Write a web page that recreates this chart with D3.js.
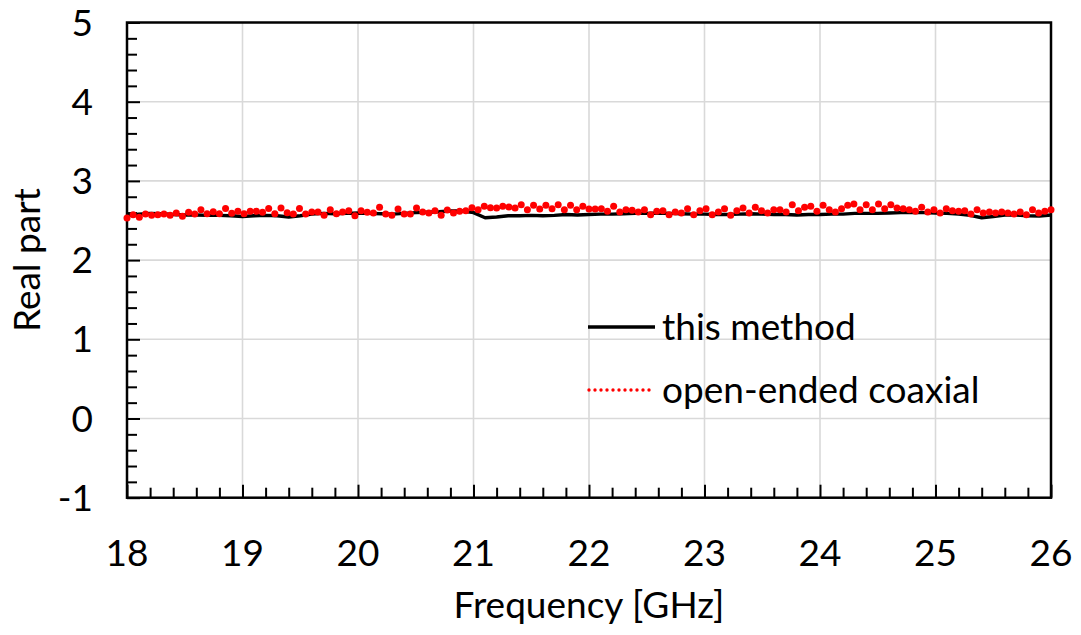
<!DOCTYPE html>
<html>
<head>
<meta charset="utf-8">
<script src="https://cdn.jsdelivr.net/npm/d3@7"></script>
<style>
  html, body { margin: 0; padding: 0; background: #fff; }
  svg { display: block; }
  text { font-family: Lato, "Open Sans", sans-serif; fill: #000; }
</style>
</head>
<body>
<svg id="chart" width="1081" height="635"></svg>
<script>
// Frequency sweep of the measured real permittivity (GHz)
const freqStart = 18;
const freqEnd = 26;

// "this method": sampled every 0.1 GHz from 18 to 26 GHz
const methodValues = [
  2.56, 2.58, 2.59, 2.585, 2.575, 2.57, 2.57, 2.565, 2.565, 2.56,
  2.55, 2.56, 2.565, 2.56, 2.545, 2.56, 2.58, 2.59, 2.585, 2.59,
  2.595, 2.59, 2.585, 2.58, 2.59, 2.60, 2.605, 2.61, 2.62, 2.62,
  2.60, 2.535, 2.545, 2.56, 2.56, 2.565, 2.56, 2.565, 2.575, 2.57,
  2.575, 2.58, 2.58, 2.585, 2.59, 2.59, 2.595, 2.59, 2.585, 2.58,
  2.58, 2.575, 2.575, 2.58, 2.585, 2.58, 2.575, 2.575, 2.57, 2.575,
  2.575, 2.58, 2.58, 2.59, 2.59, 2.59, 2.595, 2.60, 2.60, 2.60,
  2.595, 2.59, 2.58, 2.565, 2.535, 2.55, 2.57, 2.57, 2.56, 2.555,
  2.57
];

// "open-ended coaxial": 151 points evenly spread from 18 to 26 GHz
const coaxValues = [
  2.53, 2.574, 2.54, 2.582, 2.565, 2.574, 2.582, 2.565, 2.595, 2.553,
  2.603, 2.582, 2.637, 2.586, 2.611, 2.586, 2.653, 2.59, 2.616, 2.586,
  2.616, 2.616, 2.603, 2.653, 2.586, 2.658, 2.599, 2.582, 2.653, 2.582,
  2.607, 2.607, 2.565, 2.637, 2.586, 2.607, 2.624, 2.561, 2.624, 2.603,
  2.595, 2.666, 2.582, 2.565, 2.645, 2.582, 2.582, 2.658, 2.607, 2.595,
  2.624, 2.565, 2.632, 2.595, 2.616, 2.624, 2.66, 2.637, 2.68, 2.66,
  2.658, 2.679, 2.67, 2.658, 2.70, 2.637, 2.691, 2.645, 2.691, 2.649,
  2.70, 2.637, 2.691, 2.637, 2.679, 2.645, 2.645, 2.649, 2.616, 2.679,
  2.607, 2.637, 2.628, 2.607, 2.637, 2.574, 2.616, 2.624, 2.574, 2.607,
  2.595, 2.649, 2.574, 2.624, 2.649, 2.574, 2.607, 2.649, 2.565, 2.624,
  2.658, 2.595, 2.666, 2.624, 2.595, 2.637, 2.637, 2.607, 2.70, 2.624,
  2.666, 2.679, 2.616, 2.691, 2.637, 2.607, 2.649, 2.691, 2.708, 2.637,
  2.70, 2.637, 2.708, 2.649, 2.70, 2.658, 2.649, 2.637, 2.616, 2.666,
  2.607, 2.637, 2.595, 2.649, 2.624, 2.616, 2.624, 2.582, 2.637, 2.595,
  2.607, 2.595, 2.607, 2.595, 2.582, 2.607, 2.574, 2.637, 2.595, 2.616,
  2.637
];

const xTickValues = [18, 19, 20, 21, 22, 23, 24, 25, 26];
const yTickValues = [-1, 0, 1, 2, 3, 4, 5];
const seriesNames = ["this method", "open-ended coaxial"];
const xTitle = "Frequency [GHz]";
const yTitle = "Real part";

const svg = d3.select("#chart");
const plot = { left: 127, right: 1051, top: 22.5, bottom: 497.7 };
const fontSize = 37;

const x = d3.scaleLinear().domain([freqStart, freqEnd]).range([plot.left, plot.right]);
const y = d3.scaleLinear().domain([-1, 5]).range([plot.bottom, plot.top]);

const methodData = methodValues.map((v, i) =>
  ({ f: freqStart + i * (freqEnd - freqStart) / (methodValues.length - 1), v }));
const coaxData = coaxValues.map((v, i) =>
  ({ f: freqStart + i * (freqEnd - freqStart) / (coaxValues.length - 1), v }));

// Gridlines
const grid = svg.append("g").attr("stroke", "#d9d9d9").attr("stroke-width", 1.6);
grid.selectAll("line.v").data(xTickValues.slice(1, -1)).join("line")
  .attr("x1", d => x(d)).attr("x2", d => x(d))
  .attr("y1", plot.top).attr("y2", plot.bottom);
grid.selectAll("line.h").data(yTickValues.slice(1, -1)).join("line")
  .attr("y1", d => y(d)).attr("y2", d => y(d))
  .attr("x1", plot.left).attr("x2", plot.right);

// Minor tick positions every 0.2 between the integer majors
const isMinor = d => Math.abs(d - Math.round(d)) > 1e-9;
const xMinor = d3.range(freqStart * 5, freqEnd * 5 + 1).map(d => d / 5).filter(isMinor);
const yMinor = d3.range(-5, 26).map(d => d / 5).filter(isMinor);

// Axes with inward ticks (major + minor)
const xAxisG = svg.append("g").attr("transform", `translate(0,${plot.bottom})`);
xAxisG.append("g").call(d3.axisTop(x).tickValues(xMinor).tickSize(10).tickFormat(""));
xAxisG.append("g").call(d3.axisTop(x).tickValues(xTickValues).tickSize(13).tickFormat(""));
xAxisG.selectAll(".domain").remove();
xAxisG.selectAll("line").attr("stroke", "#000").attr("stroke-width", 2);

const yAxisG = svg.append("g").attr("transform", `translate(${plot.left},0)`);
yAxisG.append("g").call(d3.axisRight(y).tickValues(yMinor).tickSize(10).tickFormat(""));
yAxisG.append("g").call(d3.axisRight(y).tickValues(yTickValues).tickSize(13).tickFormat(""));
yAxisG.selectAll(".domain").remove();
yAxisG.selectAll("line").attr("stroke", "#000").attr("stroke-width", 2);

// Frame
svg.append("rect")
  .attr("x", plot.left).attr("y", plot.top)
  .attr("width", plot.right - plot.left).attr("height", plot.bottom - plot.top)
  .attr("fill", "none").attr("stroke", "#000").attr("stroke-width", 2.5);

// Tick labels
svg.append("g").selectAll("text").data(xTickValues).join("text")
  .attr("x", d => x(d)).attr("y", 566)
  .attr("text-anchor", "middle").attr("font-size", fontSize)
  .text(d => d);
svg.append("g").selectAll("text").data(yTickValues).join("text")
  .attr("x", 93).attr("y", d => y(d) + 13)
  .attr("text-anchor", "end").attr("font-size", fontSize)
  .text(d => d);

// Axis titles
svg.append("text").attr("x", (plot.left + plot.right) / 2).attr("y", 618)
  .attr("text-anchor", "middle").attr("font-size", fontSize).text(xTitle);
svg.append("text").attr("transform", `translate(40,${(plot.top + plot.bottom) / 2}) rotate(-90)`)
  .attr("text-anchor", "middle").attr("font-size", fontSize).text(yTitle);

// Series
const line = d3.line().x(d => x(d.f)).y(d => y(d.v)).curve(d3.curveLinear);
svg.append("path").datum(methodData)
  .attr("d", line).attr("fill", "none").attr("stroke", "#000")
  .attr("stroke-width", 3.4).attr("stroke-linejoin", "round");

svg.append("g").selectAll("circle").data(coaxData).join("circle")
  .attr("cx", d => x(d.f)).attr("cy", d => y(d.v)).attr("r", 3.5)
  .attr("fill", "#ff0000");

// Legend
const legend = svg.append("g");
legend.append("line").attr("x1", 588).attr("x2", 655).attr("y1", 327).attr("y2", 327)
  .attr("stroke", "#000").attr("stroke-width", 3.4);
legend.append("text").attr("x", 662).attr("y", 340).attr("font-size", fontSize).text(seriesNames[0]);
legend.append("line").attr("x1", 589).attr("x2", 655).attr("y1", 390).attr("y2", 390)
  .attr("stroke", "#ff0000").attr("stroke-width", 3.4)
  .attr("stroke-dasharray", "0 6").attr("stroke-linecap", "round");
legend.append("text").attr("x", 662).attr("y", 403).attr("font-size", fontSize).text(seriesNames[1]);
</script>
</body>
</html>
